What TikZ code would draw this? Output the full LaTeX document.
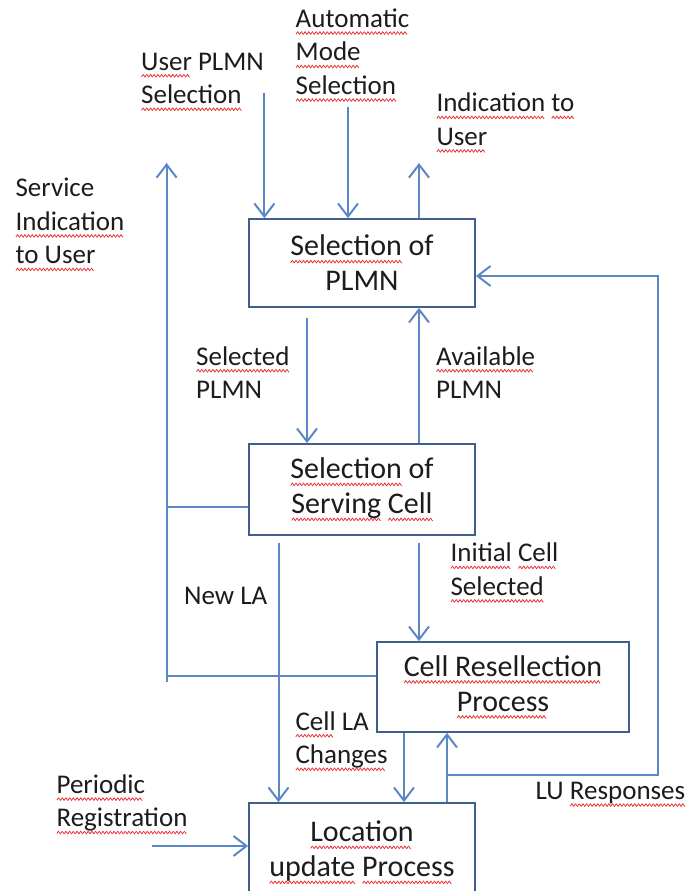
\documentclass[tikz,border=0pt]{standalone}
\usepackage{fontspec}
\setmainfont{Carlito}
\usepackage{graphicx}
\usetikzlibrary{arrows.meta}
\definecolor{flow}{HTML}{5B87C4}
\definecolor{frame}{HTML}{3F5F8E}
\definecolor{ink}{HTML}{1C1C1C}
\definecolor{spell}{HTML}{E8262A}
% red zigzag underline, as left by a spell checker
\newsavebox\sqword
\newcommand\zzunit{\hbox{\rotatebox{55}{\rule{3.2pt}{0.75pt}}\kern-0.6pt\raisebox{2.1pt}{\rotatebox{-55}{\rule{3.2pt}{0.75pt}}}\kern-0.6pt}}
\newcommand\sq[1]{\leavevmode\sbox\sqword{#1}%
  \rlap{\raisebox{-7pt}{\color{spell}\hbox to\wd\sqword{\leaders\zzunit\hfill}}}%
  \usebox\sqword}
\begin{document}
\begin{tikzpicture}[x=1pt,y=-1pt,
  proc/.style={draw=frame,line width=1.8pt,fill=white,inner sep=0pt,
    minimum width=226pt,align=center,text=ink,
    font=\fontsize{30}{35}\selectfont},
  % anchored at the baseline of the last line
  lbl/.style={inner sep=0pt,anchor=base west,align=left,text=ink,
    font=\fontsize{27}{33.5}\selectfont},
  link/.style={draw=flow,line width=2pt},
  arr/.style={link,-{Straight Barb[length=13pt,width=20pt]}}]
\useasboundingbox (0,0) rectangle (691,891);
\clip (0,0) rectangle (691,891);

% process boxes
\node[proc,minimum height=88pt] (plmn) at (362,263) {\sq{Selection} of\\PLMN};
\node[proc,minimum height=91pt] (cell) at (362,489.5) {\sq{Selection} of\\\sq{Serving} \sq{Cell}};
\node[proc,minimum width=252pt,minimum height=90pt] (resel) at (503,687) {\sq{Cell Resellection}\\\sq{Process}};
\node[proc,minimum height=99pt] (lu) at (362,852.5) {\sq{Location}\\\sq{update} \sq{Process}};

% free ends of the connectors
\coordinate (userIn) at (264.4,93);
\coordinate (autoIn) at (348,107);
\coordinate (indOut) at (419,163);
\coordinate (svcTop) at (166.6,163);
\coordinate (svcBot) at (166.6,682);
\coordinate (bar2) at (166.6,507);
\coordinate (bar3) at (166.6,676);
\coordinate (selTop) at (307,318);
\coordinate (initTop) at (419,543);
\coordinate (newTop) at (278.5,543);
\coordinate (luJoin) at (447,775);
\coordinate (luCorner) at (658,775);
\coordinate (luTurn) at (658,276);
\coordinate (perIn) at (152,846);
\coordinate (chg) at (404,0);
\coordinate (luUp) at (447,0);

% connectors
\draw[arr] (userIn) -- (userIn |- plmn.north);
\draw[arr] (autoIn) -- (autoIn |- plmn.north);
\draw[arr] (indOut |- plmn.north) -- (indOut);
\draw[arr] (svcBot) -- (svcTop);
\draw[link] (bar2) -- (bar2 -| cell.west);
\draw[link] (bar3) -- (bar3 -| resel.west);
\draw[arr] (selTop) -- (selTop |- cell.north);
\draw[arr] (indOut |- cell.north) -- (indOut |- plmn.south);
\draw[arr] (initTop) -- (initTop |- resel.north);
\draw[arr] (newTop) -- (newTop |- lu.north);
\draw[arr] (chg |- resel.south) -- (chg |- lu.north);
\draw[arr] (luUp |- lu.north) -- (luUp |- resel.south);
\draw[arr] (luJoin) -- (luCorner) -- (luTurn) -- (luTurn -| plmn.east);
\draw[arr] (perIn) -- (perIn -| lu.west);

% connector labels
\node[lbl] (lUser) at (141,103.5) {\sq{User} PLMN\\\sq{Selection}};
\node[lbl] (lAuto) at (295.5,94.3) {\sq{Automatic}\\\sq{Mode}\\\sq{Selection}};
\node[lbl] (lInd) at (436.3,145.2) {\sq{Indication} \sq{to}\\\sq{User}};
\node[lbl] (lSvc) at (15.4,263.7) {Service\\\sq{Indication}\\\sq{to User}};
\node[lbl] (lSel) at (196,398.5) {\sq{Selected}\\PLMN};
\node[lbl] (lAvail) at (436,398.5) {\sq{Available}\\PLMN};
\node[lbl] (lInit) at (450.4,595.2) {\sq{Initial} \sq{Cell}\\\sq{Selected}};
\node[lbl] (lNew) at (184,604) {New LA};
\node[lbl] (lChg) at (295.3,763.5) {\sq{Cell} LA\\\sq{Changes}};
\node[lbl] (lPer) at (56.4,826.8) {\sq{Periodic}\\\sq{Registration}};
\node[lbl] (lResp) at (535.5,799.3) {LU \sq{Responses}};
\end{tikzpicture}
\end{document}
